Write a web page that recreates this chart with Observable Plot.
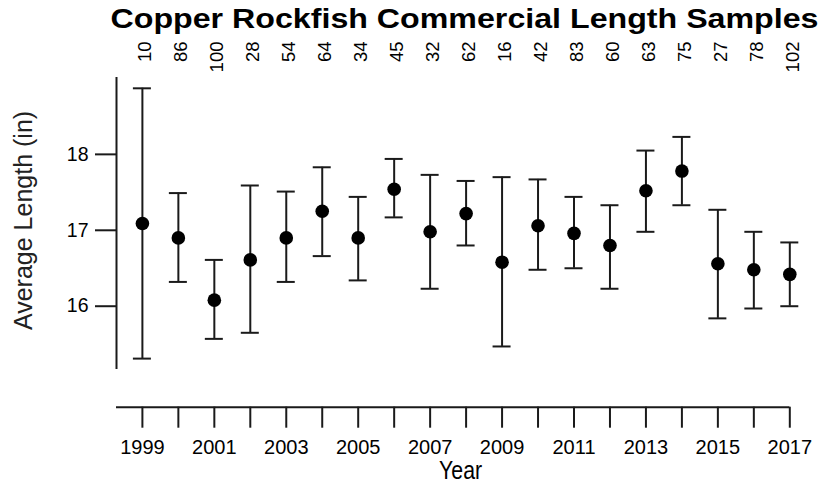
<!DOCTYPE html>
<html>
<head>
<meta charset="utf-8">
<script src="https://cdn.jsdelivr.net/npm/d3@7"></script>
<script src="https://cdn.jsdelivr.net/npm/@observablehq/plot@0.6"></script>
<style>
  html, body { margin: 0; padding: 0; background: #fff; }
  #chart { width: 822px; height: 484px; }
</style>
</head>
<body>
<div id="chart"></div>
<script>
// ---- data ----
const years  = [1999,2000,2001,2002,2003,2004,2005,2006,2007,2008,2009,2010,2011,2012,2013,2014,2015,2016,2017];
const means  = [17.09,16.90,16.08,16.61,16.90,17.25,16.90,17.54,16.98,17.22,16.58,17.06,16.96,16.80,17.52,17.78,16.56,16.48,16.42];
const upper  = [18.87,17.49,16.61,17.59,17.51,17.83,17.44,17.94,17.73,17.65,17.70,17.67,17.44,17.33,18.05,18.23,17.27,16.98,16.84];
const lower  = [15.31,16.32,15.57,15.65,16.32,16.66,16.34,17.17,16.23,16.80,15.47,16.48,16.50,16.23,16.98,17.33,15.84,15.97,16.00];
const counts = [10,86,100,28,54,64,34,45,32,62,16,42,83,60,63,75,27,78,102];
const xTickLabels = [1999,2001,2003,2005,2007,2009,2011,2013,2015,2017];
const yTicks = [16,17,18];
const title = "Copper Rockfish Commercial Length Samples";
const xTitle = "Year";
const yTitle = "Average Length (in)";

// ---- table built from the arrays ----
const data = years.map((y, i) => ({year: y, mean: means[i], hi: upper[i], lo: lower[i], n: counts[i]}));

// plot region (R-style 4% padding around the data range)
const xPad = (d3.max(years) - d3.min(years)) * 0.04;
const xMin = d3.min(years) - xPad, xMax = d3.max(years) + xPad;
const yPad = (d3.max(upper) - d3.min(lower)) * 0.04;
const yLo = d3.min(lower) - yPad, yHi = d3.max(upper) + yPad;
const yAxisBase = 14.67; // level of the detached x-axis line

const font = "'Liberation Sans', Arial, Helvetica, sans-serif";
const ink = "#1a1a1a";

const chart = Plot.plot({
  width: 822,
  height: 484,
  marginLeft: 116,
  marginRight: 6.8,
  marginTop: 77,
  marginBottom: 77.3,
  style: {fontFamily: font, background: "#fff", color: "#000", overflow: "visible"},
  x: {type: "linear", domain: [xMin, xMax]},
  y: {type: "linear", domain: [yAxisBase, yHi]},
  marks: [
    // y axis
    Plot.ruleX([xMin], {y1: yLo, y2: yHi, stroke: ink, strokeWidth: 2}),
    Plot.axisY({ticks: yTicks, tickSize: 21, tickPadding: 7, fontSize: 19.5, label: null,
                stroke: ink, strokeWidth: 2, tickFormat: d => String(d)}),
    // x axis (detached, below the plot region)
    Plot.ruleY([yAxisBase], {x1: xMin, x2: d3.max(years), stroke: ink, strokeWidth: 2}),
    Plot.axisX({ticks: years, tickSize: 21, tickPadding: 12, fontSize: 20, label: null,
                stroke: ink, strokeWidth: 2,
                tickFormat: d => xTickLabels.includes(d) ? String(d) : ""}),
    // error bars
    Plot.ruleX(data, {x: "year", y1: "lo", y2: "hi", stroke: ink, strokeWidth: 2}),
    Plot.ruleY(data, {y: "hi", x1: "year", x2: "year", insetLeft: -9, insetRight: -9, stroke: ink, strokeWidth: 2}),
    Plot.ruleY(data, {y: "lo", x1: "year", x2: "year", insetLeft: -9, insetRight: -9, stroke: ink, strokeWidth: 2}),
    // means
    Plot.dot(data, {x: "year", y: "mean", r: 6.8, fill: "#000", stroke: "none"}),
    // sample sizes on top
    Plot.text(data, {x: "year", text: d => String(d.n), frameAnchor: "top", rotate: -90,
                     textAnchor: "end", lineAnchor: "middle", dy: -36, dx: 3, fontSize: 18.5, fill: "#000"}),
    // titles
    Plot.text([title], {frameAnchor: "top", text: d => d, dy: -50, dx: -1.6, lineAnchor: "bottom",
                        textAnchor: "middle", fontSize: 27, fontWeight: "bold", fill: "#000"}),
    Plot.text([xTitle], {frameAnchor: "bottom", x: () => (xMin + xMax) / 2, text: d => d, dy: 71.5, dx: -5.5,
                         textAnchor: "middle", lineAnchor: "bottom", fontSize: 26, fill: "#000"}),
    Plot.text([yTitle], {frameAnchor: "left", y: () => (yLo + yHi) / 2, text: d => d, rotate: -90,
                         textAnchor: "middle", dx: -85, dy: -3, lineAnchor: "bottom", fontSize: 25, fill: "#222"})
  ]
});

// stretch the wide bold title and narrow "Year" like the reference rendering
d3.select(chart).selectAll("text").each(function() {
  if (this.textContent === title) { this.setAttribute("textLength", 708); this.setAttribute("lengthAdjust", "spacingAndGlyphs"); }
  if (this.textContent === xTitle) { this.setAttribute("textLength", 43); this.setAttribute("lengthAdjust", "spacingAndGlyphs"); }
});

document.getElementById("chart").appendChild(chart);
</script>
</body>
</html>
